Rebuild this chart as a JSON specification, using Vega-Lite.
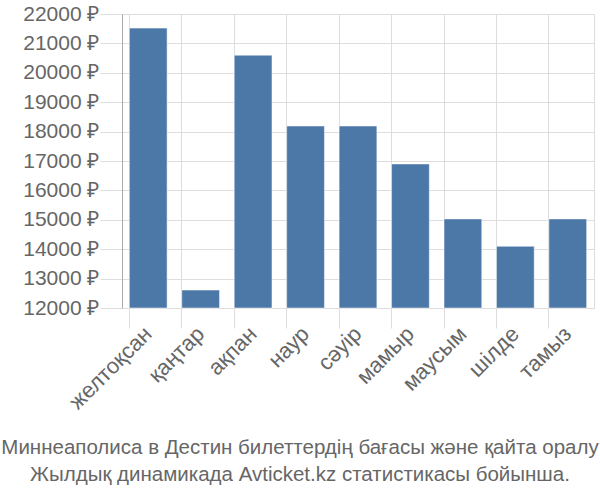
{
  "$schema": "https://vega.github.io/schema/vega-lite/v6.json",
  "autosize": "none",
  "width": 472,
  "height": 294,
  "padding": {"left": 122, "top": 14, "right": 6, "bottom": 192},
  "background": "white",
  "data": {
    "values": [
      {"month": "желтоқсан", "price": 21520},
      {"month": "қаңтар", "price": 12610},
      {"month": "ақпан", "price": 20600},
      {"month": "наур", "price": 18190},
      {"month": "сәуір", "price": 18190},
      {"month": "мамыр", "price": 16900},
      {"month": "маусым", "price": 15030},
      {"month": "шілде", "price": 14100},
      {"month": "тамыз", "price": 15030}
    ]
  },
  "title": {
    "text": ["Миннеаполиса в Дестин билеттердің бағасы және қайта оралу", "Жылдық динамикада Avticket.kz статистикасы бойынша."],
    "orient": "bottom",
    "anchor": "middle",
    "dx": -58,
    "font": "Liberation Sans",
    "fontSize": 20.5,
    "fontWeight": "normal",
    "color": "#666666",
    "lineHeight": 27,
    "offset": 25
  },
  "config": {
    "view": {"stroke": "#dddddd"},
    "axis": {"labelFont": "Liberation Sans", "labelFontSize": 21, "labelColor": "#666666", "gridColor": "#dddddd", "tickColor": "#dddddd", "title": null}
  },
  "mark": {"type": "bar", "color": "#4c78a8", "stroke": "#ffffff", "strokeWidth": 0.5},
  "encoding": {
    "x": {
      "field": "month",
      "type": "nominal",
      "sort": null,
      "scale": {"paddingInner": 0.28, "paddingOuter": 0.14},
      "axis": {
        "bandPosition": 0,
        "labelAngle": -45,
        "labelAlign": "right",
        "labelBaseline": "middle",
        "labelFontSize": 22,
        "tickSize": 20,
        "labelPadding": 2,
        "domain": false,
        "grid": true
      }
    },
    "y": {
      "field": "price",
      "type": "quantitative",
      "scale": {"domain": [12000, 22000], "zero": false, "nice": false},
      "axis": {
        "values": [12000, 13000, 14000, 15000, 16000, 17000, 18000, 19000, 20000, 21000, 22000],
        "labelExpr": "datum.value + ' ₽'",
        "tickSize": 22,
        "labelPadding": 1,
        "domain": true,
        "domainColor": "#aaaaaa",
        "grid": true
      }
    },
    "y2": {"datum": 12000}
  }
}
